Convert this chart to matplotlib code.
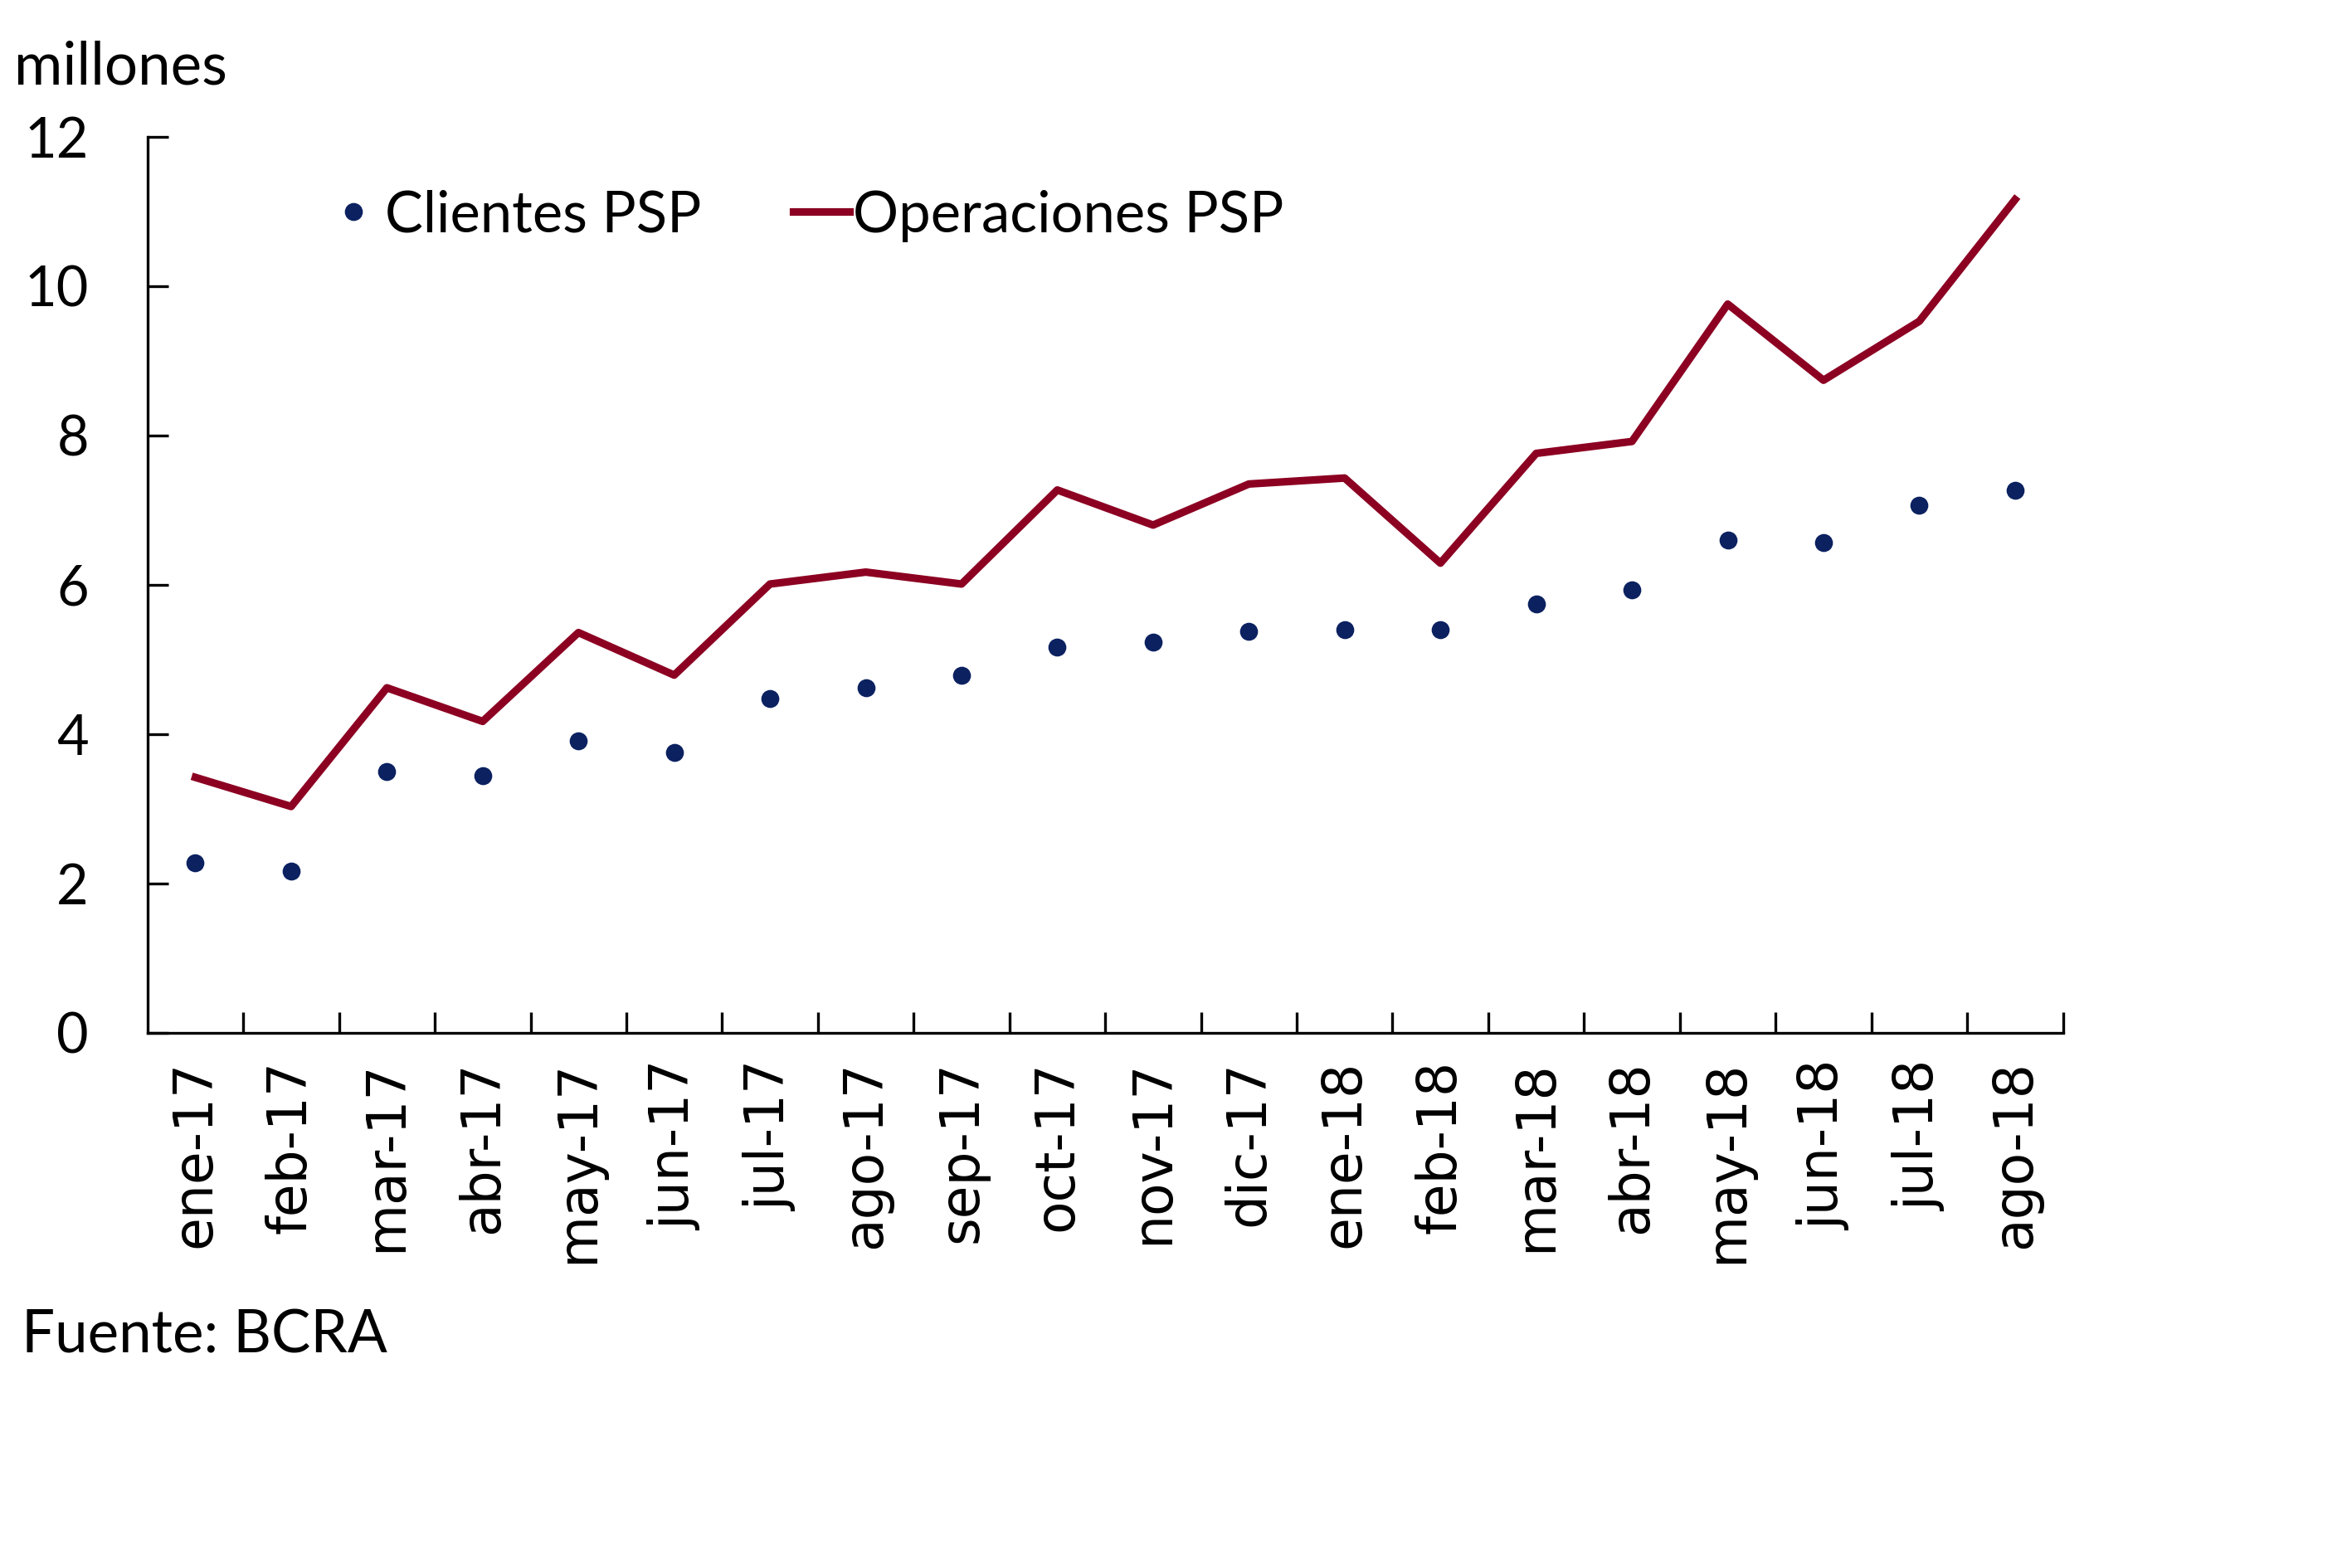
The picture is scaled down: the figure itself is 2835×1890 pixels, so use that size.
import numpy as np
import matplotlib
matplotlib.use("Agg")
import matplotlib.pyplot as plt

# data (millions)
months = ["ene-17", "feb-17", "mar-17", "abr-17", "may-17", "jun-17", "jul-17",
          "ago-17", "sep-17", "oct-17", "nov-17", "dic-17", "ene-18", "feb-18",
          "mar-18", "abr-18", "may-18", "jun-18", "jul-18", "ago-18"]
clientes = [2.28, 2.16, 3.50, 3.44, 3.91, 3.75, 4.48, 4.62, 4.79, 5.17,
            5.23, 5.38, 5.40, 5.40, 5.74, 5.93, 6.60, 6.56, 7.07, 7.27]
operaciones = [3.42, 3.03, 4.62, 4.17, 5.36, 4.79, 6.01, 6.17, 6.01, 7.27,
               6.80, 7.35, 7.43, 6.29, 7.76, 7.92, 9.76, 8.74, 9.53, 11.16]

plt.rcParams['font.family'] = ['Lato', 'DejaVu Sans']

fig = plt.figure(figsize=(9.45, 6.3), dpi=300)
ax = fig.add_axes([0.0627, 0.3414, 0.8144, 0.5713])

x = np.arange(len(months))
ax.plot(x, clientes, linestyle='none', marker='o', markersize=4.2,
        color='#0b2160', label='Clientes PSP')
ax.plot(x, operaciones, color='#8c0022', linewidth=2.2, label='Operaciones PSP')

ax.set_xlim(-0.5, len(months) - 0.5)
ax.set_ylim(0, 12)
ax.set_yticks([0, 2, 4, 6, 8, 10, 12])

# tick marks between months, labels at the centers
ax.set_xticks(np.arange(0.5, len(months), 1.0))
ax.set_xticklabels([])
ax.set_xticks(x, minor=True)
ax.set_xticklabels(months, minor=True, rotation=90, fontsize=15.5,
                   family='DejaVu Sans')
ax.tick_params(axis='x', which='major', direction='in', length=6, width=0.8)
ax.tick_params(axis='x', which='minor', length=0, pad=8)
ax.tick_params(axis='y', direction='in', length=6, width=0.8, labelsize=16, pad=17)

for s in ['top', 'right']:
    ax.spines[s].set_visible(False)
for s in ['left', 'bottom']:
    ax.spines[s].set_linewidth(0.8)

ax.legend(loc='center left', bbox_to_anchor=(0.066, 0.912), ncol=2, frameon=False,
          fontsize=16.5, handlelength=1.0, handletextpad=0.05, columnspacing=1.6)

fig.text(0.006, 0.957, 'millones', fontsize=17, va='center', ha='left')
fig.text(0.009, 0.148, 'Fuente: BCRA', fontsize=17, va='center', ha='left')

fig.savefig('out.png', dpi=300)
